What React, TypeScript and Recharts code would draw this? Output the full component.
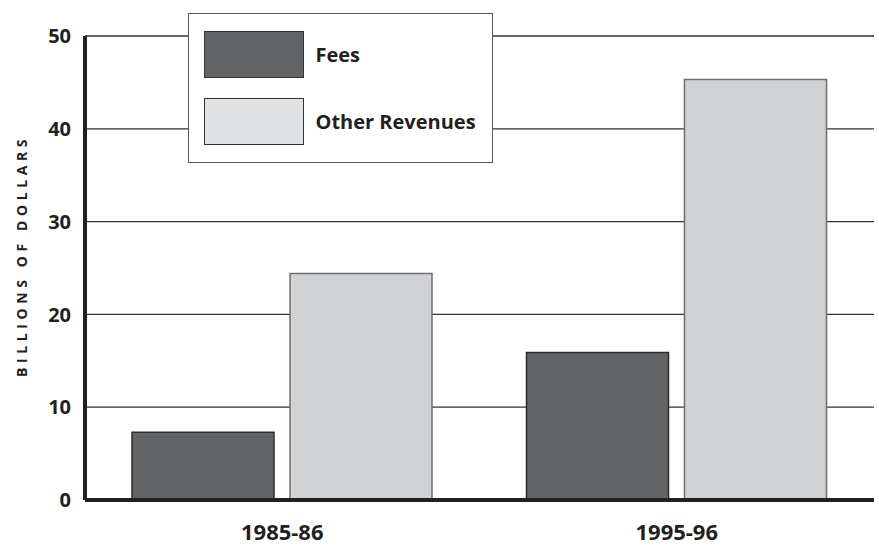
import { BarChart, Bar, XAxis, YAxis, CartesianGrid, Legend, Label } from "recharts";

const categories = ["1985-86", "1995-96"];
const fees = [7.3, 15.9];
const otherRevenues = [24.4, 45.3];
const yTicks = [0, 10, 20, 30, 40, 50];

const data = categories.map((name, i) => ({
  name,
  fees: fees[i],
  other: otherRevenues[i],
}));

const FONT = "'Open Sans', sans-serif";
const INK = "#231f20";

const legendFill: Record<string, string> = {
  fees: "#636466",
  other: "#e1e2e4",
};

const renderLegend = (props: any) => {
  const { payload = [] } = props;
  return (
    <div
      style={{
        width: 305,
        height: 150,
        boxSizing: "border-box",
        border: "1.5px solid #58595b",
        background: "#fff",
        paddingTop: 16.5,
        paddingLeft: 14.5,
        fontFamily: FONT,
      }}
    >
      {payload.map((entry: any) => (
        <div
          key={entry.dataKey}
          style={{ display: "flex", alignItems: "center", height: 47, marginBottom: 20 }}
        >
          <div
            style={{
              width: 100,
              height: 47,
              boxSizing: "border-box",
              background: legendFill[entry.dataKey] || entry.color,
              border: "1.5px solid #333",
            }}
          />
          <span style={{ marginLeft: 12, fontSize: 20, fontWeight: 700, color: INK }}>
            {entry.value}
          </span>
        </div>
      ))}
    </div>
  );
};

const YTitle = (props: any) => {
  const { x, y, height } = props.viewBox;
  return (
    <text
      transform={`translate(${x + 27},${y + height / 2 - 12}) rotate(-90)`}
      textAnchor="middle"
      fontFamily={FONT}
      fontSize={14}
      fontWeight={700}
      letterSpacing={4.6}
      fill={INK}
    >
      BILLIONS OF DOLLARS
    </text>
  );
};

export default function App() {
  return (
    <div style={{ position: "absolute", left: 0, top: 0, background: "#fff" }}>
      <BarChart
        width={879}
        height={547}
        data={data}
        margin={{ top: 36, right: 5, bottom: 0, left: 0 }}
        barSize={142}
        barGap={16}
      >
        <CartesianGrid vertical={false} stroke="#333" strokeWidth={1.3} />
        <XAxis
          dataKey="name"
          height={47}
          tickSize={0}
          tickMargin={24}
          axisLine={{ stroke: INK, strokeWidth: 4 }}
          tick={{ fontSize: 22, fontWeight: 700, fill: INK, fontFamily: FONT }}
        />
        <YAxis
          width={85}
          domain={[0, 50]}
          ticks={yTicks}
          interval={0}
          tickSize={0}
          tickMargin={14}
          axisLine={{ stroke: INK, strokeWidth: 4 }}
          tick={{ fontSize: 20, fontWeight: 700, fill: INK, fontFamily: FONT }}
        >
          <Label content={YTitle} />
        </YAxis>
        <Legend
          layout="vertical"
          verticalAlign="middle"
          align="center"
          content={renderLegend}
          wrapperStyle={{ left: 188, top: 13, width: 305, height: 150 }}
        />
        <Bar dataKey="fees" name="Fees" fill="#636466" stroke="#2b2b2b" strokeWidth={1.5} isAnimationActive={false} />
        <Bar dataKey="other" name="Other Revenues" fill="#d1d2d4" stroke="#6d6e70" strokeWidth={1.5} isAnimationActive={false} />
      </BarChart>
    </div>
  );
}
